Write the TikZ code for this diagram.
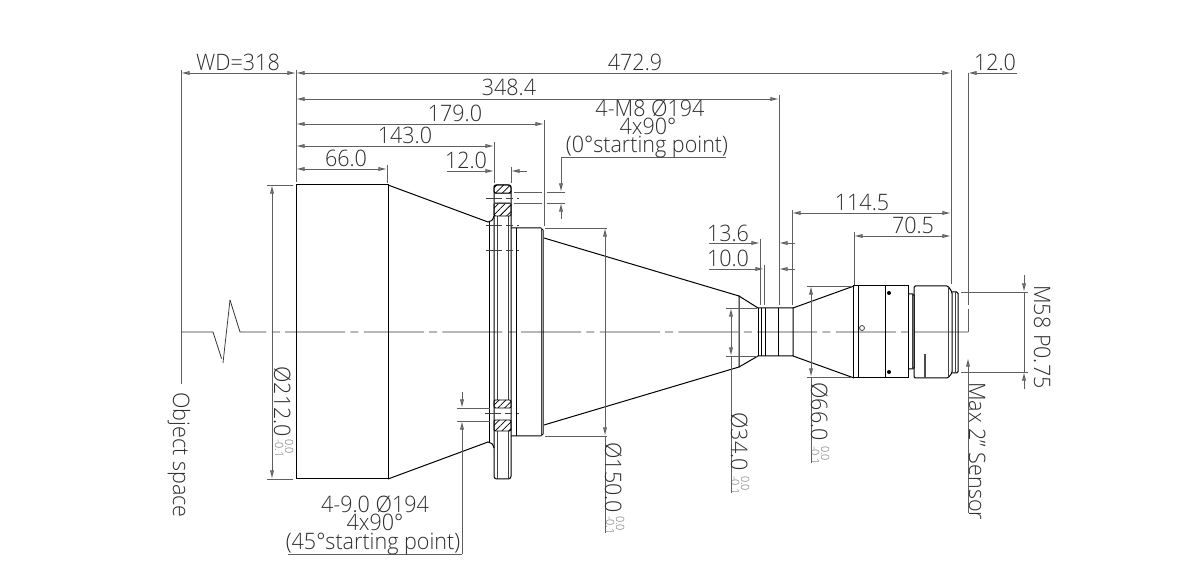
\documentclass[tikz,border=0pt]{standalone}
\usepackage{fontspec}
\setmainfont{Open Sans Light}[FakeStretch=0.95]
\usetikzlibrary{arrows.meta,patterns.meta}
\definecolor{dimgray}{RGB}{95,95,95}
\definecolor{txtgray}{RGB}{45,45,45}
\definecolor{tolgray}{RGB}{110,110,110}
\tikzset{
  outline/.style={draw=black,line width=0.75pt},
  thinline/.style={draw=black!75,line width=0.6pt},
  extline/.style={draw=dimgray,line width=0.7pt},
  dimline/.style={draw=dimgray,line width=0.7pt,{Latex[length=6.5pt,width=3.2pt,fill=dimgray!70]}-{Latex[length=6.5pt,width=3.2pt,fill=dimgray!70]}},
  dimend/.style={draw=dimgray,line width=0.7pt,-{Latex[length=6.5pt,width=3.2pt,fill=dimgray!70]}},
  centerline/.style={draw=black!80,line width=0.6pt,dash pattern=on 45pt off 4pt on 6pt off 4pt},
  hatched/.style={draw=black,line width=0.7pt,rounded corners=1pt,pattern={Lines[angle=45,distance=3.6pt,line width=0.55pt]}},
  lbl/.style={inner sep=0pt,anchor=base,text=txtgray,font=\fontsize{17}{18}\selectfont},
  stacklbl/.style={lbl,text height=11pt,text depth=0pt},
  vlbl/.style={inner sep=0pt,anchor=base west,rotate=-90,text=txtgray,font=\fontsize{17}{18}\selectfont},
  tol/.style={inner sep=0pt,anchor=base west,rotate=-90,text=tolgray,font=\fontsize{8.5}{9}\selectfont}
}
\begin{document}
\begin{tikzpicture}[x=0.75pt,y=0.75pt,yscale=-1,xscale=1]
\useasboundingbox (0,0) rectangle (1200,580);

%Center line
\draw [centerline] (181,332) -- (213,332) -- (223,363);
\draw [thinline] (223,363) -- (230,300);
\draw [centerline] (230,300) -- (240,332) -- (968,332);

%Front barrel
\draw [outline] (296,185) -- (296,479) -- (388,479) -- (388,185) -- cycle;
\draw [outline] (388,185) -- (488,222) .. controls (491,222) and (493,220) .. (494,216);
\draw [outline] (388,479) -- (488,442) .. controls (491,442) and (493,444) .. (494,448);

%Flange ring
\draw [outline] (489,222) -- (489,442);
\draw [outline,rounded corners=2pt] (494,216) -- (494,479) -- (511,479) -- (511,185) -- (494,185) -- (494,216);
\draw [thinline] (497,216) -- (497,400) (497,431) -- (497,479);
\draw [thinline] (508,216) -- (508,400) (508,431) -- (508,479);
\draw [hatched] (494,185) rectangle (511,193);
\draw [hatched] (494,203) rectangle (511,216);
\draw [hatched] (494,400) rectangle (511,408);
\draw [hatched] (494,420) rectangle (511,431);
\draw [thinline] (494,193) -- (511,193) (494,203) -- (511,203);
\draw [thinline,dash pattern=on 12pt off 3pt on 5pt off 3pt] (486,198) -- (519,198);
\draw [thinline,dash pattern=on 12pt off 3pt on 5pt off 3pt] (486,225) -- (519,225);
\draw [thinline,dash pattern=on 12pt off 3pt on 5pt off 3pt] (486,250) -- (519,250);
\draw [thinline,dash pattern=on 12pt off 3pt on 5pt off 3pt] (485,413) -- (519,413);

%Rear flange and second cone
\draw [outline] (511,228) -- (541,228) -- (543,230) -- (543,434) -- (541,436) -- (511,436);
\draw [outline] (516,228) -- (516,436);
\draw [thinline] (541,228) -- (541,436);
\draw [outline] (544,238) -- (739,296) -- (739,367) -- (544,425);

%Neck
\draw [outline] (739,296) -- (758,308) -- (793,308) -- (793,356) -- (758,356) -- (739,367);
\draw [outline] (758,308) -- (758,356);
\draw [outline] (761,308) -- (761,356);
\draw [outline] (765,308) -- (765,356);
\draw [outline] (778,308) -- (778,356);

%Third cone and rear barrel
\draw [outline] (793,308) -- (854,286);
\draw [outline] (793,356) -- (854,378);
\draw [outline] (853,286) -- (853,378);
\draw [outline] (858,286) -- (858,378);
\draw [outline] (853,286) -- (908,286) -- (908,378) -- (853,378);
\draw [outline] (885,286) -- (885,378);
\draw [outline,rounded corners=1pt] (908,294) -- (914,294) -- (914,369) -- (908,369);
\draw [thinline] (912,294) -- (912,369);
\draw [outline,rounded corners=1pt] (914,286) -- (948,286) -- (952,292) -- (952,373) -- (948,378) -- (914,378) -- cycle;
\draw [thinline] (948,286) -- (948,378);
\draw [outline,rounded corners=1pt] (952,292) -- (958,292) -- (958,373) -- (952,373);
\draw [thinline] (955,292) -- (955,373);
\fill [black] (889,293) circle (2);
\fill [black] (889,372) circle (2);
\draw [thinline] (862,328) circle (2.5);
\draw [draw=black!70,line width=1.2pt] (925,354) -- (925,378);

%Top dimensions
\draw [extline] (181,70) -- (181,384);
\draw [extline] (296,70) -- (296,182);
\draw [dimline] (181,73) -- (296,73);
\draw [dimline] (296,73) -- (951,73);
\draw [extline] (951,70) -- (951,284);
\draw [extline] (968,73) -- (968,305);
\draw [extline] (968,309) -- (968,332);
\draw [dimend] (1017,73) -- (968,73);
\draw [dimline] (296,99) -- (779,99);
\draw [extline] (779,95) -- (779,305);
\draw [dimline] (296,124) -- (544,124);
\draw [extline] (544,120) -- (544,226);
\draw [dimline] (296,146) -- (494,146);
\draw [extline] (494,142) -- (494,183);
\draw [dimline] (296,169) -- (387,169);
\draw [extline] (387,165) -- (387,183);
\draw [dimend] (447,171) -- (494,171);
\draw [dimend] (527,171) -- (511,171);
\draw [extline] (511,167) -- (511,183);

%Hole position top
\draw [extline] (561,157) -- (726,157);
\draw [dimend] (561,157) -- (561,192);
\draw [dimend] (561,219) -- (561,203);
\draw [extline] (514,192) -- (542,192) (547,192) -- (565,192);
\draw [extline] (514,203) -- (542,203) (547,203) -- (565,203);

%Hole position bottom
\draw [extline] (457,408) -- (490,408);
\draw [extline] (457,421) -- (490,421);
\draw [dimend] (462,392) -- (462,408);
\draw [dimend] (462,554) -- (462,421);
\draw [extline] (288,554) -- (462,554);

%Right dimensions
\draw [extline] (792,210) -- (792,305);
\draw [dimline] (792,213) -- (951,213);
\draw [extline] (854,232) -- (854,285);
\draw [dimline] (854,236) -- (951,236);
\draw [extline] (760,239) -- (760,305);
\draw [extline] (764,265) -- (764,305);
\draw [dimend] (709,243) -- (760,243);
\draw [dimend] (795,243) -- (779,243);
\draw [dimend] (709,269) -- (764,269);
\draw [dimend] (795,269) -- (779,269);

%Diameters
\draw [extline] (267,185) -- (293,185);
\draw [extline] (267,479) -- (293,479);
\draw [dimline] (272,185) -- (272,479);
\draw [extline] (545,228) -- (607,228);
\draw [extline] (545,436) -- (607,436);
\draw [dimline] (605,228) -- (605,436);
\draw [extline] (605,436) -- (605,533);
\draw [extline] (726,308) -- (757,308);
\draw [extline] (726,356) -- (757,356);
\draw [dimline] (731,308) -- (731,356);
\draw [extline] (731,356) -- (731,493);
\draw [extline] (807,286) -- (852,286);
\draw [extline] (807,377) -- (852,377);
\draw [dimline] (811,286) -- (811,377);
\draw [extline] (811,377) -- (811,463);
\draw [extline] (961,292) -- (1028,292);
\draw [extline] (961,372) -- (1028,372);
\draw [extline] (1024,292) -- (1024,372);
\draw [dimend] (1024,275) -- (1024,292);
\draw [dimend] (1024,389) -- (1024,372);
\draw [dimend] (968,513) -- (968,358);

% Text Node
\draw (238,71) node (wdlabel) [lbl] {WD=318};
\draw (635,71) node (totlabel) [lbl] {472.9};
\draw (995,71) node (senslabel) [lbl] {12.0};
\draw (509,96) node (flangelabel) [lbl] {348.4};
\draw (455,122) node (reartop) [lbl] {179.0};
\draw (405,144) node (ringlabel) [lbl] {143.0};
\draw (346,167) node (frontlabel) [lbl] {66.0};
\draw (466,169) node (ringwidth) [lbl] {12.0};
\draw (650,117) node (mthread) [stacklbl] {4-M8 Ø194};
\draw (648,135) node (mangle) [stacklbl] {4x90°};
\draw (647,153) node (mstart) [stacklbl] {(0°starting point)};
\draw (375,513) node (hthread) [stacklbl] {4-9.0 Ø194};
\draw (375,531) node (hangle) [stacklbl] {4x90°};
\draw (373,550) node (hstart) [stacklbl] {(45°starting point)};
\draw (728,242) node (necka) [lbl] {13.6};
\draw (728,267) node (neckb) [lbl] {10.0};
\draw (862,211) node (reara) [lbl] {114.5};
\draw (913,234) node (rearb) [lbl] {70.5};
% Rotated Text Node
\draw (173,392) node (objspace) [vlbl] {Object space};
\draw (274,366) node (dfront) [vlbl] {Ø212.0};
\draw (285,439) node (dfronta) [tol] {0.0};
\draw (275,439) node (dfrontb) [tol] {-0.1};
\draw (605,442) node (dflange) [vlbl] {Ø150.0};
\draw (616,516) node (dflangea) [tol] {0.0};
\draw (606,516) node (dflangeb) [tol] {-0.1};
\draw (731,412) node (dneck) [vlbl] {Ø34.0};
\draw (741,476) node (dnecka) [tol] {0.0};
\draw (731,476) node (dneckb) [tol] {-0.1};
\draw (811,382) node (drear) [vlbl] {Ø66.0};
\draw (821,446) node (dreara) [tol] {0.0};
\draw (811,446) node (drearb) [tol] {-0.1};
\draw (969,382) node (sensor) [vlbl] {Max 2" Sensor};
\draw (1034,285) node (mount) [vlbl] {M58 P0.75};

\end{tikzpicture}
\end{document}
